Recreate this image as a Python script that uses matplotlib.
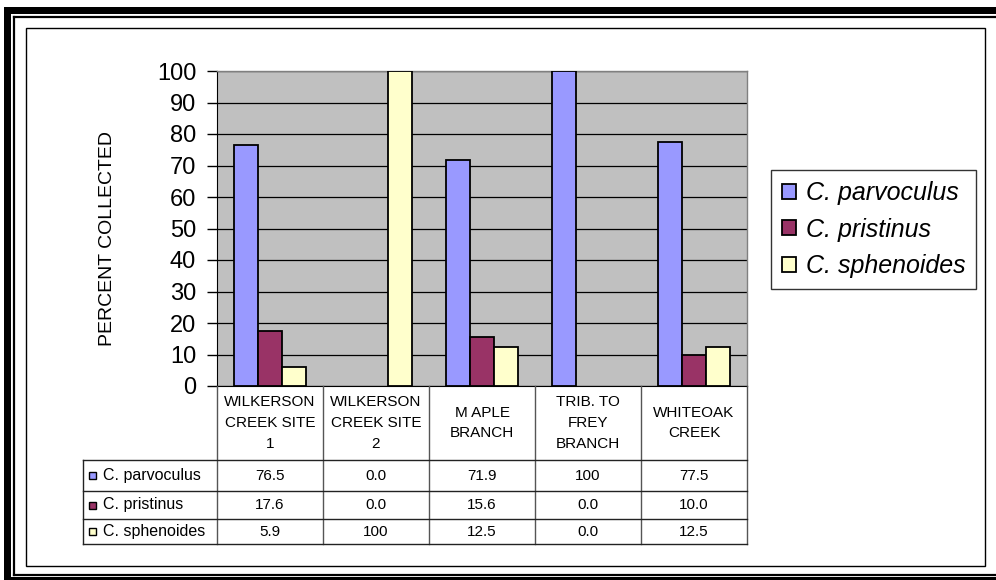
import matplotlib
matplotlib.use("Agg")
import matplotlib.pyplot as plt
from matplotlib.patches import Rectangle
import numpy as np

plt.rcParams['font.family'] = ['Liberation Sans', 'DejaVu Sans']

# ---- data ----
sites = ["WILKERSON\nCREEK SITE\n1", "WILKERSON\nCREEK SITE\n2", "M APLE\nBRANCH",
         "TRIB. TO\nFREY\nBRANCH", "WHITEOAK\nCREEK"]
species = ["C. parvoculus", "C. pristinus", "C. sphenoides"]
parvoculus = [76.5, 0.0, 71.9, 100, 77.5]
pristinus = [17.6, 0.0, 15.6, 0.0, 10.0]
sphenoides = [5.9, 100, 12.5, 0.0, 12.5]
series = [parvoculus, pristinus, sphenoides]
table_text = [["76.5", "0.0", "71.9", "100", "77.5"],
              ["17.6", "0.0", "15.6", "0.0", "10.0"],
              ["5.9", "100", "12.5", "0.0", "12.5"]]
colors = ["#9999FF", "#993366", "#FFFFCC"]
yticks = [0, 10, 20, 30, 40, 50, 60, 70, 80, 90, 100]

W, H = 996, 580
fig = plt.figure(figsize=(W / 100, H / 100), dpi=100)

def fx(px):
    return px / W

def fy(py):
    return 1 - py / H

# ---- background frame (pixel coords) ----
bg = fig.add_axes([0, 0, 1, 1], zorder=-5)
bg.set_xlim(0, W)
bg.set_ylim(H, 0)
bg.axis("off")
bg.add_patch(Rectangle((4, 7), W, 7, color="black", lw=0))
bg.add_patch(Rectangle((4, 7), 7, H, color="black", lw=0))
bg.add_patch(Rectangle((4, 577), W, 5, color="black", lw=0))
bg.plot([14, 14], [16.5, 574.5], color="black", lw=1.6)
bg.plot([14, W], [16.5, 16.5], color="black", lw=1.6)
bg.plot([14, W], [574.5, 574.5], color="black", lw=1.6)
bg.add_patch(Rectangle((26, 28), 985 - 26, 566 - 28, fill=False, ec="black", lw=1.0))

# ---- main axes ----
L, R, T, B = 217, 747, 71, 386
ax = fig.add_axes([fx(L), fy(B), fx(R - L), (B - T) / H])
ax.set_facecolor("#C0C0C0")
ax.set_xlim(-0.5, 4.5)
ax.set_ylim(0, 100)
ax.set_yticks(yticks)
ax.set_yticklabels([str(t) for t in yticks], fontsize=17)
ax.tick_params(axis="y", direction="out", length=7, width=1, pad=8)
ax.set_xticks([])
ax.yaxis.grid(True, color="black", lw=0.9)
ax.set_axisbelow(True)
for s in ["top", "right"]:
    ax.spines[s].set_color("#808080")
    ax.spines[s].set_linewidth(1.0)
ax.spines["left"].set_color("black")
ax.spines["bottom"].set_color("black")

x = np.arange(len(sites))
bw = 0.225
for j, (vals, c, name) in enumerate(zip(series, colors, species)):
    lws = [1.3 if v > 0 else 0 for v in vals]
    ax.bar(x + (j - 1) * bw, vals, bw, color=c, edgecolor="black", linewidth=lws,
           label=name, zorder=3)

fig.text(fx(107), fy(238), "PERCENT COLLECTED", rotation=90, ha="center",
         va="center", fontsize=14)

leg = fig.legend(loc="center", bbox_to_anchor=(fx(873.5), fy(229.5)),
                 prop={"style": "italic", "size": 18}, frameon=True,
                 fancybox=False, edgecolor="black", handlelength=0.55,
                 handleheight=0.55, handletextpad=0.4, labelspacing=0.5,
                 borderpad=0.45, borderaxespad=0)
leg.get_frame().set_linewidth(1.0)
for h in leg.legend_handles:
    h.set_linewidth(1.3)

# ---- data table ----
TL = 83
rows_y = [386, 460, 491, 519, 544]
unit = (R - L) / 5.0
tax = fig.add_axes([fx(TL), fy(rows_y[-1]), fx(R - TL), (rows_y[-1] - rows_y[0]) / H])
tax.set_xlim(-0.5 - (L - TL) / unit, 4.5)
tax.set_ylim(rows_y[-1], rows_y[0])
tax.axis("off")
edge = "#222222"
# vertical lines
for k in range(6):
    tax.plot([k - 0.5, k - 0.5], [rows_y[0], rows_y[-1]], color="#555555", lw=1.0,
             clip_on=False)
xl = -0.5 - (L - TL) / unit
tax.plot([xl, xl], [rows_y[1], rows_y[-1]], color=edge, lw=1.0, clip_on=False)
for yy in rows_y[1:]:
    tax.plot([xl, 4.5], [yy, yy], color=edge, lw=1.0, clip_on=False)
# header text
for i, s in enumerate(sites):
    tax.text(i, (rows_y[0] + rows_y[1]) / 2, s, ha="center", va="center",
             fontsize=11, linespacing=1.6)
# rows
for r in range(3):
    yc = (rows_y[r + 1] + rows_y[r + 2]) / 2
    tax.add_patch(Rectangle((xl + 0.055, yc - 3.5), 0.065, 7, fc=colors[r],
                            ec="black", lw=1.0, clip_on=False))
    tax.text(xl + 0.185, yc, species[r], ha="left", va="center", fontsize=11.5)
    for i in range(5):
        tax.text(i, yc, table_text[r][i], ha="center", va="center", fontsize=11)

fig.savefig("out.png", dpi=100)
